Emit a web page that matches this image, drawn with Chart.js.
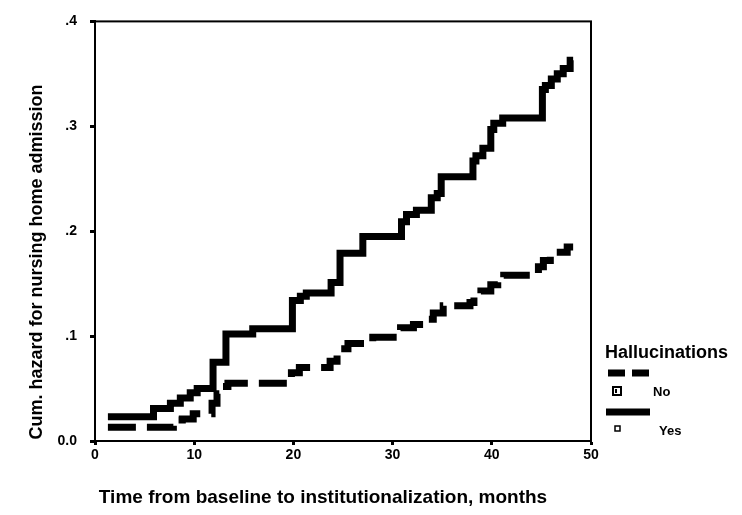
<!DOCTYPE html>
<html>
<head>
<meta charset="utf-8">
<script src="https://cdn.jsdelivr.net/npm/chart.js@4.4.1/dist/chart.umd.min.js"></script>
<style>
  html, body { margin: 0; padding: 0; background: #fff; }
  #wrap { width: 742px; height: 515px; position: relative; }
</style>
</head>
<body>
<div id="wrap"><canvas id="c" width="742" height="515"></canvas></div>
<script>
// ---- Data (months, cumulative hazard) ----
const yesTimes  = [1.3, 5.9, 7.6, 8.6, 9.6, 10.3, 11.9, 13.2, 15.9, 19.9, 20.7, 21.3, 23.8, 24.7, 27.0, 30.9, 31.4, 32.4, 33.9, 34.5, 34.9, 38.1, 38.4, 39.1, 39.9, 40.2, 41.1, 45.1, 45.4, 46.0, 46.6, 47.2, 47.9, 48.2];
const yesValues = [0.023, 0.031, 0.036, 0.041, 0.046, 0.050, 0.075, 0.102, 0.107, 0.134, 0.138, 0.141, 0.151, 0.179, 0.195, 0.209, 0.216, 0.220, 0.232, 0.236, 0.252, 0.267, 0.272, 0.279, 0.297, 0.303, 0.308, 0.335, 0.339, 0.345, 0.350, 0.355, 0.363, 0.363];

const noTimes  = [1.3, 7.9, 8.8, 9.9, 11.8, 12.3, 12.9, 13.4, 19.8, 20.6, 23.7, 24.4, 24.8, 25.5, 28.0, 30.8, 32.1, 33.5, 34.1, 35.1, 37.8, 38.2, 38.9, 39.9, 40.6, 41.2, 44.7, 45.2, 45.9, 46.9, 47.6, 48.2];
const noValues = [0.013, 0.020, 0.021, 0.026, 0.036, 0.045, 0.052, 0.055, 0.065, 0.070, 0.076, 0.082, 0.088, 0.093, 0.099, 0.108, 0.111, 0.116, 0.122, 0.129, 0.132, 0.138, 0.143, 0.149, 0.155, 0.158, 0.166, 0.172, 0.176, 0.180, 0.185, 0.185];

const seriesLabels = ['No', 'Yes'];
const legendTitle = 'Hallucinations';
const xTitle = 'Time from baseline to institutionalization, months';
const yTitle = 'Cum. hazard for nursing home admission';
const xTicks = [0, 10, 20, 30, 40, 50];
const yTicks = [0, 0.1, 0.2, 0.3, 0.4];

const FONT = '"Liberation Sans", Arial, Helvetica, sans-serif';

function pts(ts, vs) { return ts.map((t, i) => ({ x: t, y: vs[i] })); }

const framePlugin = {
  id: 'frame',
  afterDraw(chart) {
    const { ctx, chartArea: a } = chart;
    ctx.save();
    ctx.strokeStyle = '#000';
    ctx.lineWidth = 2;
    ctx.strokeRect(a.left, a.top, a.right - a.left, a.bottom - a.top);

    // axis titles
    ctx.fillStyle = '#000';
    ctx.font = 'bold 19px ' + FONT;
    ctx.textAlign = 'center';
    ctx.textBaseline = 'middle';
    ctx.fillText(xTitle, 323, 498);
    ctx.save();
    ctx.translate(37, 262);
    ctx.rotate(-Math.PI / 2);
    ctx.font = 'bold 18px ' + FONT;
    ctx.fillText(yTitle, 0, 0);
    ctx.restore();

    // legend
    ctx.textAlign = 'left';
    ctx.font = 'bold 18px ' + FONT;
    ctx.fillText(legendTitle, 605, 353);
    ctx.lineWidth = 7;
    ctx.lineCap = 'butt';
    // dashed sample
    ctx.beginPath();
    ctx.moveTo(608, 373); ctx.lineTo(625, 373);
    ctx.moveTo(632, 373); ctx.lineTo(649, 373);
    ctx.stroke();
    // solid sample
    ctx.beginPath();
    ctx.moveTo(606, 412); ctx.lineTo(650, 412);
    ctx.stroke();
    // symbols
    ctx.lineWidth = 2;
    ctx.strokeRect(613, 387, 8, 8);
    ctx.fillRect(615, 389, 2, 4);
    ctx.lineWidth = 1.5;
    ctx.strokeRect(615, 426, 5, 5);
    ctx.font = 'bold 13px ' + FONT;
    ctx.fillText(seriesLabels[0], 653, 392);
    ctx.fillText(seriesLabels[1], 659, 431);
    ctx.restore();
  }
};

new Chart(document.getElementById('c'), {
  type: 'line',
  data: {
    datasets: [
      {
        label: seriesLabels[0],
        data: pts(noTimes, noValues),
        borderColor: '#000',
        borderWidth: 7,
        borderDash: [28, 11],
        borderCapStyle: 'butt',
        borderJoinStyle: 'miter',
        stepped: true,
        pointRadius: 0,
        fill: false
      },
      {
        label: seriesLabels[1],
        data: pts(yesTimes, yesValues),
        borderColor: '#000',
        borderWidth: 7,
        borderCapStyle: 'butt',
        borderJoinStyle: 'miter',
        stepped: true,
        pointRadius: 0,
        fill: false
      }
    ]
  },
  options: {
    responsive: false,
    animation: false,
    devicePixelRatio: 1,
    layout: { padding: { left: 0, top: 13, right: 151, bottom: 0 } },
    plugins: { legend: { display: false }, tooltip: { enabled: false } },
    scales: {
      x: {
        type: 'linear',
        min: 0, max: 50,
        afterBuildTicks: s => { s.ticks = xTicks.map(v => ({ value: v })); },
        afterFit: s => { s.height = 74; },
        ticks: { color: '#000', font: { family: FONT, size: 14, weight: 'bold' }, padding: 2, maxRotation: 0 },
        grid: { drawOnChartArea: false, drawTicks: true, tickLength: 4, tickWidth: 3, tickColor: '#000', color: '#000' },
        border: { color: '#000', width: 2 }
      },
      y: {
        type: 'linear',
        min: 0, max: 0.4,
        afterBuildTicks: s => { s.ticks = yTicks.map(v => ({ value: v })); },
        afterFit: s => { s.width = 95; },
        ticks: {
          color: '#000',
          font: { family: FONT, size: 14, weight: 'bold' },
          padding: 13,
          callback: v => (v === 0 ? '0.0' : v.toFixed(1).replace(/^0/, ''))
        },
        grid: { drawOnChartArea: false, drawTicks: true, tickLength: 5, tickWidth: 3, tickColor: '#000', color: '#000' },
        border: { color: '#000', width: 2 }
      }
    }
  },
  plugins: [framePlugin]
});
</script>
</body>
</html>
